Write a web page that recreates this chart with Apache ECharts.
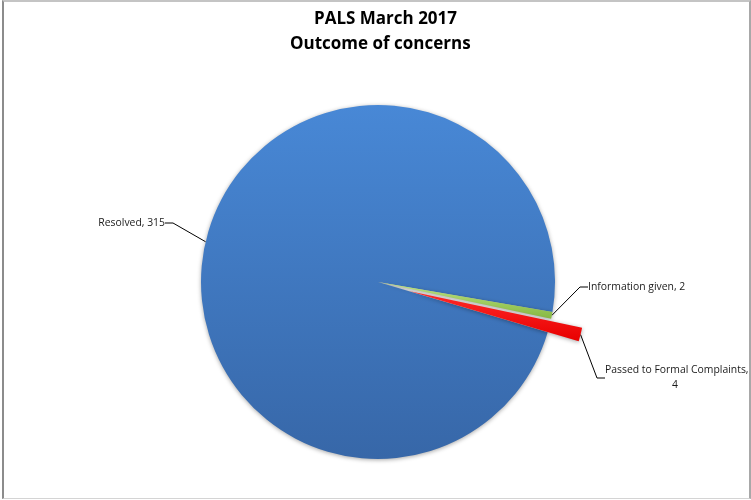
<!DOCTYPE html>
<html>
<head>
<meta charset="utf-8">
<script src="https://cdn.jsdelivr.net/npm/echarts@6/dist/echarts.min.js"></script>
<style>
  html, body { margin: 0; padding: 0; background: #ffffff; }
  #frame {
    position: absolute; left: 2px; top: 0px; width: 745px; height: 496px;
    border-top: 2px solid #c4c4c4; border-left: 2px solid #8c8c8c;
    border-right: 2px solid #a8a8a8; border-bottom: 1px solid #d4d4d4;
  }
  #chart { position: absolute; left: 0; top: 0; width: 751px; height: 500px; }
</style>
</head>
<body>
<div id="frame"></div>
<div id="chart"></div>
<script>
// Outcome of PALS concerns, March 2017
const categories = ['Resolved', 'Information given', 'Passed to Formal Complaints'];
const counts = [315, 2, 4];
const sliceColors = [
  ['#4888d6', '#3767a8'],
  ['#bde483', '#86b842'],
  ['#ff2a2a', '#e80000']
];
const titleLines = ['PALS March 2017', 'Outcome of concerns'];
// Index of the slice drawn pulled out from the pie
const explodedIndex = 2;

// Label anchor points (text placement next to the pie)
const labelSpots = [
  { x: 165, y: 223, align: 'right' },
  { x: 588, y: 287, align: 'left' },
  { x: 605, y: 378, align: 'left' }
];

const pieCenter = [378, 282];
const pieRadius = 177;
const explodeShift = [31, 9];

const chart = echarts.init(document.getElementById('chart'), null, { renderer: 'canvas' });

function sliceFill(i) {
  return new echarts.graphic.LinearGradient(0, 0, 0, 1, [
    { offset: 0, color: sliceColors[i][0] },
    { offset: 1, color: sliceColors[i][1] }
  ]);
}

const labelBase = {
  show: true,
  position: 'outside',
  overflow: 'none',
  formatter: function (p) {
    return p.dataIndex === 2
      ? p.name + ',\n{mid|' + p.value + '}'
      : p.name + ', ' + p.value;
  },
  rich: {
    mid: { align: 'center', fontFamily: 'Open Sans', fontSize: 10.4, color: '#1a1a1a', padding: [0, 0, 0, 12] }
  },
  fontFamily: 'Open Sans',
  fontSize: 10.4,
  lineHeight: 15,
  color: '#1a1a1a'
};

function layoutLabel(params) {
  const s = labelSpots[params.dataIndex];
  return { x: s.x, y: s.y, align: s.align, verticalAlign: 'middle' };
}

// Main pie: every slice except the exploded one
const mainData = categories.map((name, i) => ({
  name: name,
  value: counts[i],
  itemStyle: i === explodedIndex
    ? { color: 'rgba(0,0,0,0)', shadowBlur: 0, shadowColor: 'rgba(0,0,0,0)' }
    : { color: sliceFill(i) },
  label: { show: i !== explodedIndex },
  labelLine: { show: i !== explodedIndex }
}));

// Second pie, same angles, shifted outward: only the exploded slice is visible
const pulledData = categories.map((name, i) => ({
  name: name,
  value: counts[i],
  itemStyle: i === explodedIndex
    ? { color: sliceFill(i) }
    : { color: 'rgba(0,0,0,0)', shadowBlur: 0, shadowColor: 'rgba(0,0,0,0)' },
  label: { show: i === explodedIndex },
  labelLine: { show: i === explodedIndex }
}));

const commonPie = {
  type: 'pie',
  radius: pieRadius,
  startAngle: -16.5,
  clockwise: true,
  silent: true,
  itemStyle: {
    shadowBlur: 4,
    shadowColor: 'rgba(0,0,0,0.35)',
    shadowOffsetY: 1
  },
  label: labelBase,
  labelLine: {
    show: true,
    length: 20,
    length2: 8,
    lineStyle: { color: '#000000', width: 1 }
  },
  labelLayout: layoutLabel,
  emphasis: { disabled: true }
};

const titleFont = { fontFamily: 'Open Sans', fontWeight: 'bold', fontSize: 17, color: '#000' };

chart.setOption({
  animation: false,
  title: [
    { text: titleLines[0], left: 314, top: 11, padding: 0, textStyle: titleFont },
    { text: titleLines[1], left: 290, top: 36, padding: 0, textStyle: titleFont }
  ],
  series: [
    Object.assign({}, commonPie, { name: 'main', center: pieCenter, data: mainData }),
    Object.assign({}, commonPie, {
      name: 'pulled',
      center: [pieCenter[0] + explodeShift[0], pieCenter[1] + explodeShift[1]],
      data: pulledData
    })
  ]
});
</script>
</body>
</html>
